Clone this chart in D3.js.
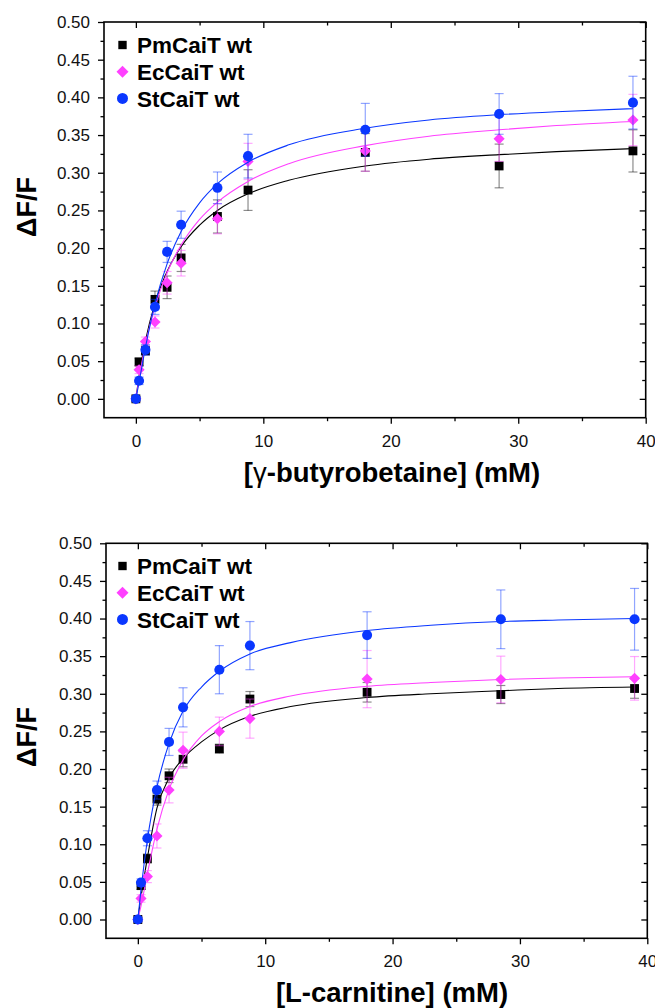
<!DOCTYPE html>
<html>
<head>
<meta charset="utf-8">
<script src="https://cdn.jsdelivr.net/npm/d3@7"></script>
<style>
  body { margin: 0; background: #fff; }
  svg { display: block; }
</style>
</head>
<body>
<svg id="chart" width="655" height="1008"></svg>
<script>
// Series shared by both titration panels
const seriesNames = ["PmCaiT wt", "EcCaiT wt", "StCaiT wt"];
const seriesColors = ["#000000", "#ff40ff", "#0a37ff"];
const seriesSymbols = ["square", "diamond", "circle"];

// Substrate concentrations (mM) of the measured points
const concentrations = [0, 0.25, 0.75, 1.5, 2.45, 3.55, 6.4, 8.8, 18, 28.5, 39];
// Concentrations (mM) at which the fitted binding curves are listed
const fitConcentrations = [0, 0.25, 0.75, 1.5, 2.45, 3.55, 5, 6.4, 8.8, 12, 18, 23, 28.5, 33, 39];

// Axis ticks
const xTickValues = [0, 10, 20, 30, 40];
const xMinorTickValues = [5, 15, 25, 35];
const yTickValues = [0, 0.05, 0.10, 0.15, 0.20, 0.25, 0.30, 0.35, 0.40, 0.45, 0.50];
const yMinorTickValues = [0.025, 0.075, 0.125, 0.175, 0.225, 0.275, 0.325, 0.375, 0.425, 0.475];

// γ-butyrobetaine titration: ΔF/F, standard deviation, fitted curve
const gbbPm = [0, 0.049, 0.064, 0.132, 0.148, 0.187, 0.242, 0.277, 0.327, 0.309, 0.329];
const gbbPmErr = [0.003, 0.005, 0.006, 0.011, 0.015, 0.018, 0.022, 0.027, 0.025, 0.029, 0.028];
const gbbEc = [0, 0.0386, 0.076, 0.102, 0.154, 0.180, 0.239, 0.315, 0.329, 0.345, 0.370];
const gbbEcErr = [0.003, 0.005, 0.006, 0.008, 0.015, 0.017, 0.020, 0.024, 0.027, 0.030, 0.034];
const gbbSt = [0, 0.024, 0.065, 0.122, 0.195, 0.231, 0.280, 0.322, 0.357, 0.378, 0.393];
const gbbStErr = [0.003, 0.005, 0.007, 0.010, 0.014, 0.018, 0.021, 0.029, 0.035, 0.027, 0.035];
const gbbPmFit = [0, 0.030, 0.077, 0.127, 0.169, 0.202, 0.2305, 0.250, 0.272, 0.290, 0.309, 0.318, 0.324, 0.328, 0.332];
const gbbEcFit = [0, 0.027, 0.072, 0.122, 0.1675, 0.204, 0.238, 0.261, 0.2885, 0.312, 0.336, 0.3485, 0.357, 0.3626, 0.368];
const gbbStFit = [0, 0.022, 0.068, 0.126, 0.179, 0.222, 0.260, 0.2855, 0.314, 0.337, 0.359, 0.370, 0.377, 0.381, 0.385];

// L-carnitine titration: ΔF/F, standard deviation, fitted curve
const carnPm = [0, 0.045, 0.081, 0.160, 0.191, 0.213, 0.227, 0.293, 0.302, 0.299, 0.307];
const carnPmErr = [0.003, 0.005, 0.006, 0.008, 0.009, 0.010, 0.006, 0.010, 0.013, 0.012, 0.013];
const carnEc = [0, 0.028, 0.057, 0.111, 0.172, 0.225, 0.250, 0.267, 0.3195, 0.319, 0.3205];
const carnEcErr = [0.003, 0.005, 0.008, 0.016, 0.017, 0.024, 0.019, 0.026, 0.038, 0.031, 0.029];
const carnSt = [0, 0.049, 0.108, 0.172, 0.236, 0.282, 0.332, 0.364, 0.378, 0.399, 0.399];
const carnStErr = [0.003, 0.005, 0.010, 0.012, 0.018, 0.026, 0.032, 0.032, 0.031, 0.039, 0.041];
const carnPmFit = [0, 0.030, 0.082, 0.148, 0.188, 0.214, 0.236, 0.252, 0.270, 0.283, 0.295, 0.300, 0.304, 0.307, 0.309];
const carnEcFit = [0, 0.018, 0.061, 0.120, 0.173, 0.212, 0.244, 0.263, 0.283, 0.297, 0.310, 0.315, 0.319, 0.321, 0.3226];
const carnStFit = [0, 0.040, 0.106, 0.176, 0.234, 0.277, 0.309, 0.330, 0.353, 0.368, 0.384, 0.391, 0.396, 0.398, 0.400];

const yTitle = "ΔF/F";

// x-axis titles, split so the Greek prefix can use a lighter glyph
const panels = [
  {
    xTitleParts: [["[", "bold"], ["γ", "normal"], ["-butyrobetaine] (mM)", "bold"]],
    values: [gbbPm, gbbEc, gbbSt],
    errors: [gbbPmErr, gbbEcErr, gbbStErr],
    fits: [gbbPmFit, gbbEcFit, gbbStFit],
    box: { left: 104, right: 645.7, top: 22, bottom: 417.7 },
    yTitleCenter: 207,
    legendTop: 45
  },
  {
    xTitleParts: [["[L-carnitine] (mM)", "bold"]],
    values: [carnPm, carnEc, carnSt],
    errors: [carnPmErr, carnEcErr, carnStErr],
    fits: [carnPmFit, carnEcFit, carnStFit],
    box: { left: 106, right: 647.3, top: 543.3, bottom: 938.3 },
    yTitleCenter: 737,
    legendTop: 566
  }
];

const svg = d3.select("#chart");
const tickFont = "'Liberation Sans', Arial, sans-serif";

function symbolPath(kind, big) {
  if (kind === "square") return d3.symbol(d3.symbolSquare, big ? 70 : 78)();
  if (kind === "diamond") return d3.symbol(d3.symbolSquare, big ? 72 : 62)();
  return d3.symbol(d3.symbolCircle, big ? 95 : 80)();
}

function drawPanel(p) {
  const b = p.box;
  const x = d3.scaleLinear().domain([-2.5, 40]).range([b.left, b.right]);
  const y = d3.scaleLinear().domain([-0.025, 0.5]).range([b.bottom, b.top]);
  const g = svg.append("g");

  // Axes: labelled bottom/left, mirrored inward ticks on top/right
  const styleAxis = (sel) => {
    sel.select(".domain").remove();
    sel.selectAll("line").attr("stroke", "#000").attr("stroke-width", 1.3);
    sel.selectAll("text").attr("font-family", tickFont).attr("font-size", 17).attr("fill", "#111");
  };
  g.append("g").attr("transform", `translate(0,${b.bottom})`)
    .call(d3.axisBottom(x).tickValues(xTickValues).tickSize(6).tickPadding(11).tickFormat(d3.format("d")))
    .call(styleAxis);
  g.append("g").attr("transform", `translate(0,${b.bottom})`)
    .call(d3.axisBottom(x).tickValues(xMinorTickValues).tickSize(3.5).tickFormat(""))
    .call(styleAxis);
  g.append("g").attr("transform", `translate(${b.left},0)`)
    .call(d3.axisLeft(y).tickValues(yTickValues).tickSize(6).tickPadding(8).tickFormat(d3.format(".2f")))
    .call(styleAxis);
  g.append("g").attr("transform", `translate(${b.left},0)`)
    .call(d3.axisLeft(y).tickValues(yMinorTickValues).tickSize(3.5).tickFormat(""))
    .call(styleAxis);
  g.append("g").attr("transform", `translate(0,${b.top})`)
    .call(d3.axisTop(x).tickValues(xTickValues).tickSize(-6).tickFormat(""))
    .call(styleAxis);
  g.append("g").attr("transform", `translate(0,${b.top})`)
    .call(d3.axisTop(x).tickValues(xMinorTickValues).tickSize(-3.5).tickFormat(""))
    .call(styleAxis);
  g.append("g").attr("transform", `translate(${b.right},0)`)
    .call(d3.axisRight(y).tickValues(yTickValues).tickSize(-6).tickFormat(""))
    .call(styleAxis);
  g.append("g").attr("transform", `translate(${b.right},0)`)
    .call(d3.axisRight(y).tickValues(yMinorTickValues).tickSize(-3.5).tickFormat(""))
    .call(styleAxis);

  // Frame
  g.append("rect")
    .attr("x", b.left).attr("y", b.top)
    .attr("width", b.right - b.left).attr("height", b.bottom - b.top)
    .attr("fill", "none").attr("stroke", "#000").attr("stroke-width", 1.6);

  // Series: error bars, fitted curve, markers
  const line = d3.line().curve(d3.curveMonotoneX)
    .x((d, i) => x(fitConcentrations[i])).y(d => y(d));

  seriesNames.forEach((name, s) => {
    const color = seriesColors[s];
    const sg = g.append("g");
    const eg = sg.append("g").attr("stroke", color).attr("stroke-opacity", 0.45).attr("stroke-width", 1.2);
    concentrations.forEach((c, i) => {
      const cx = x(c), v = p.values[s][i], e = p.errors[s][i];
      const y1 = y(v - e), y2 = y(v + e);
      eg.append("line").attr("x1", cx).attr("x2", cx).attr("y1", y1).attr("y2", y2);
      eg.append("line").attr("x1", cx - 4.5).attr("x2", cx + 4.5).attr("y1", y1).attr("y2", y1);
      eg.append("line").attr("x1", cx - 4.5).attr("x2", cx + 4.5).attr("y1", y2).attr("y2", y2);
    });
    sg.append("path").datum(p.fits[s])
      .attr("d", line).attr("fill", "none").attr("stroke", color).attr("stroke-width", 1.1);
    sg.selectAll("path.pt").data(p.values[s]).join("path")
      .attr("class", "pt")
      .attr("d", symbolPath(seriesSymbols[s], false))
      .attr("transform", (d, i) => `translate(${x(concentrations[i])},${y(d)})` + (seriesSymbols[s] === "diamond" ? " rotate(45)" : ""))
      .attr("fill", color);
  });

  // Legend
  const lg = g.append("g");
  seriesNames.forEach((name, s) => {
    const ly = p.legendTop + s * 26.7;
    lg.append("path")
      .attr("d", symbolPath(seriesSymbols[s], true))
      .attr("transform", `translate(122.5,${ly})` + (seriesSymbols[s] === "diamond" ? " rotate(45)" : ""))
      .attr("fill", seriesColors[s]);
    lg.append("text")
      .attr("x", 137).attr("y", ly).attr("dy", "0.36em")
      .attr("font-family", tickFont).attr("font-weight", "bold").attr("font-size", 22.5)
      .attr("fill", "#000").text(name);
  });

  // Axis titles
  const xt = g.append("text")
    .attr("x", 392).attr("y", b.bottom + 64)
    .attr("text-anchor", "middle")
    .attr("font-family", tickFont).attr("font-size", 27.5)
    .attr("fill", "#000");
  p.xTitleParts.forEach(([txt, weight]) => {
    xt.append("tspan").attr("font-weight", weight).text(txt);
  });
  g.append("text")
    .attr("transform", `translate(36,${p.yTitleCenter}) rotate(-90)`)
    .attr("text-anchor", "middle")
    .attr("font-family", tickFont).attr("font-weight", "bold").attr("font-size", 27)
    .attr("fill", "#000").text(yTitle);
}

panels.forEach(drawPanel);
</script>
</body>
</html>
